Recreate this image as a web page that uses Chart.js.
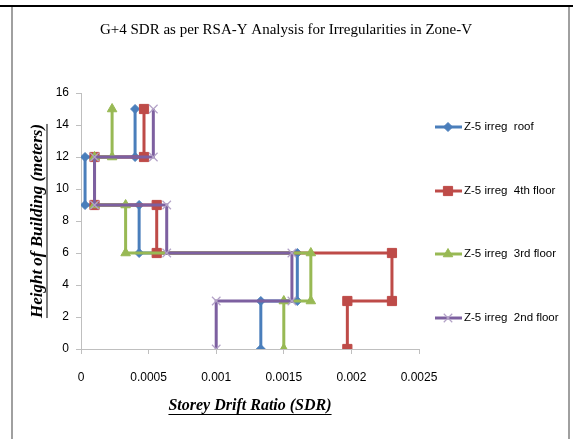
<!DOCTYPE html>
<html>
<head>
<meta charset="utf-8">
<script src="https://cdn.jsdelivr.net/npm/chart.js@4.4.0/dist/chart.umd.min.js"></script>
<style>
html, body { margin: 0; padding: 0; background: #fff; }
#wrap { position: relative; width: 573px; height: 439px; overflow: hidden; }
#topbar { position: absolute; left: 0; top: 5px; width: 573px; height: 2px; background: #000; }
#lbar { position: absolute; left: 11px; top: 7px; width: 2px; height: 432px; background: #a0a0a0; }
#rbar { position: absolute; left: 568px; top: 7px; width: 2px; height: 432px; background: #a0a0a0; }
canvas { position: absolute; left: 0; top: 0; }
</style>
</head>
<body>
<div id="wrap">
    <canvas id="sdr_chart" width="573" height="439"></canvas>
    <div id="topbar"></div>
    <div id="lbar"></div>
    <div id="rbar"></div>
</div>
<script>
// storey heights (m) - step profile, same for every series
var heights = [0, 3, 3, 6, 6, 9, 9, 12, 12, 15];

// storey drift ratio
var roofDrift   = [0.00133, 0.00133, 0.0016, 0.0016, 0.00043, 0.00043, 0.00003, 0.00003, 0.0004, 0.0004];
var fourthDrift = [0.00197, 0.00197, 0.0023, 0.0023, 0.00056, 0.00056, 0.0001, 0.0001, 0.000466, 0.000466];
var thirdDrift  = [0.0015, 0.0015, 0.0017, 0.0017, 0.00033, 0.00033, 0.0001, 0.0001, 0.00023, 0.00023];
var secondDrift = [0.001, 0.001, 0.00156, 0.00156, 0.000634, 0.000634, 0.0001, 0.0001, 0.000535, 0.000535];

var seriesNames = ['Z-5 irreg  roof', 'Z-5 irreg  4th floor', 'Z-5 irreg  3rd floor', 'Z-5 irreg  2nd floor'];
var xTickLabels = ['0', '0.0005', '0.001', '0.0015', '0.002', '0.0025'];
var yTickLabels = ['0', '2', '4', '6', '8', '10', '12', '14', '16'];

var chartTitle = 'G+4 SDR as per RSA-Y Analysis for Irregularities in Zone-V';
var xTitle = 'Storey Drift Ratio (SDR)';
var yTitle = 'Height of Building (meters)';

function toPoints(xs) {
    return xs.map(function (x, i) { return { x: x, y: heights[i] }; });
}

function underlined(ctx, text, x, y, size) {
    ctx.font = 'italic bold ' + size + 'px "Liberation Serif"';
    ctx.textAlign = 'center';
    ctx.textBaseline = 'middle';
    ctx.fillText(text, x, y);
    var w = ctx.measureText(text).width;
    ctx.fillRect(x - w / 2, y + size * 0.5, w, 1);
}

const decor = {
    id: 'decor',
    afterDraw: function (chart) {
        const ctx = chart.ctx;
        const area = chart.chartArea;
        ctx.save();
        ctx.fillStyle = '#000';

        // title
        ctx.font = '15px "Liberation Serif"';
        ctx.textAlign = 'center';
        ctx.textBaseline = 'middle';
        ctx.fillText(chartTitle, 286, 30);

        // axis titles (underlined, like the original)
        underlined(ctx, xTitle, (area.left + area.right) / 2, 406, 16);
        ctx.save();
        ctx.translate(38, (area.top + area.bottom) / 2);
        ctx.rotate(-Math.PI / 2);
        underlined(ctx, yTitle, 0, 0, 17);
        ctx.restore();

        // legend: line + marker + label
        var legendY = [127, 191, 254, 318];
        var lx = area.right + 16;
        chart.data.datasets.forEach(function (ds, i) {
            var y = legendY[i];
            ctx.strokeStyle = ds.borderColor;
            ctx.lineWidth = 3;
            ctx.beginPath();
            ctx.moveTo(lx, y);
            ctx.lineTo(lx + 27, y);
            ctx.stroke();
            ctx.fillStyle = ds.pointBackgroundColor;
            ctx.strokeStyle = ds.pointBorderColor;
            ctx.lineWidth = ds.pointBorderWidth;
            Chart.helpers.drawPoint(ctx, {
                pointStyle: ds.pointStyle,
                radius: ds.pointRadius,
                rotation: 0,
                borderWidth: ds.pointBorderWidth
            }, lx + 13, y);
            ctx.fillStyle = '#000';
            ctx.font = '11.5px "Liberation Sans"';
            ctx.textAlign = 'left';
            ctx.fillText(ds.label, lx + 29, y);
        });
        ctx.restore();
    }
};

var datasets = [
    { label: seriesNames[0], data: toPoints(roofDrift), borderColor: '#4a7ebb', pointBackgroundColor: '#4a7ebb', pointBorderColor: '#4a7ebb', pointStyle: 'rectRot', pointRadius: 4.5, pointBorderWidth: 1, order: 4 },
    { label: seriesNames[1], data: toPoints(fourthDrift), borderColor: '#be4b48', pointBackgroundColor: '#be4b48', pointBorderColor: '#be4b48', pointStyle: 'rect', pointRadius: 6.5, pointBorderWidth: 1, order: 3 },
    { label: seriesNames[2], data: toPoints(thirdDrift), borderColor: '#98b954', pointBackgroundColor: '#98b954', pointBorderColor: '#98b954', pointStyle: 'triangle', pointRadius: 5.5, pointBorderWidth: 1, order: 2 },
    { label: seriesNames[3], data: toPoints(secondDrift), borderColor: '#7d60a0', pointBackgroundColor: '#b3a2c7', pointBorderColor: '#b3a2c7', pointStyle: 'crossRot', pointRadius: 6, pointBorderWidth: 1.2, order: 1 }
];
datasets.forEach(function (d) {
    d.showLine = true;
    d.borderWidth = 3;
    d.tension = 0;
    d.fill = false;
    d.pointHoverRadius = d.pointRadius;
});

new Chart(document.getElementById('sdr_chart').getContext('2d'), {
    type: 'scatter',
    data: { datasets: datasets },
    options: {
        responsive: false,
        animation: false,
        layout: { padding: { top: 93, right: 154, left: 0, bottom: 0 } },
        plugins: { legend: { display: false }, title: { display: false }, tooltip: { enabled: false } },
        scales: {
            x: {
                type: 'linear', min: 0, max: 0.0025,
                ticks: {
                    stepSize: 0.0005, padding: 16, color: '#000',
                    font: { family: 'Liberation Sans', size: 12 },
                    callback: function (v, i) { return xTickLabels[i]; }
                },
                grid: { drawOnChartArea: false, tickLength: 5, color: '#bfbfbf' },
                border: { color: '#bfbfbf' },
                afterFit: function (s) { s.height = 90; }
            },
            y: {
                min: 0, max: 16,
                ticks: {
                    stepSize: 2, padding: 7, color: '#000',
                    font: { family: 'Liberation Sans', size: 12 },
                    callback: function (v, i) { return yTickLabels[i]; }
                },
                grid: { drawOnChartArea: false, tickLength: 5, color: '#bfbfbf' },
                border: { color: '#bfbfbf' },
                afterFit: function (s) { s.width = 81; }
            }
        }
    },
    plugins: [decor]
});
</script>
</body>
</html>
